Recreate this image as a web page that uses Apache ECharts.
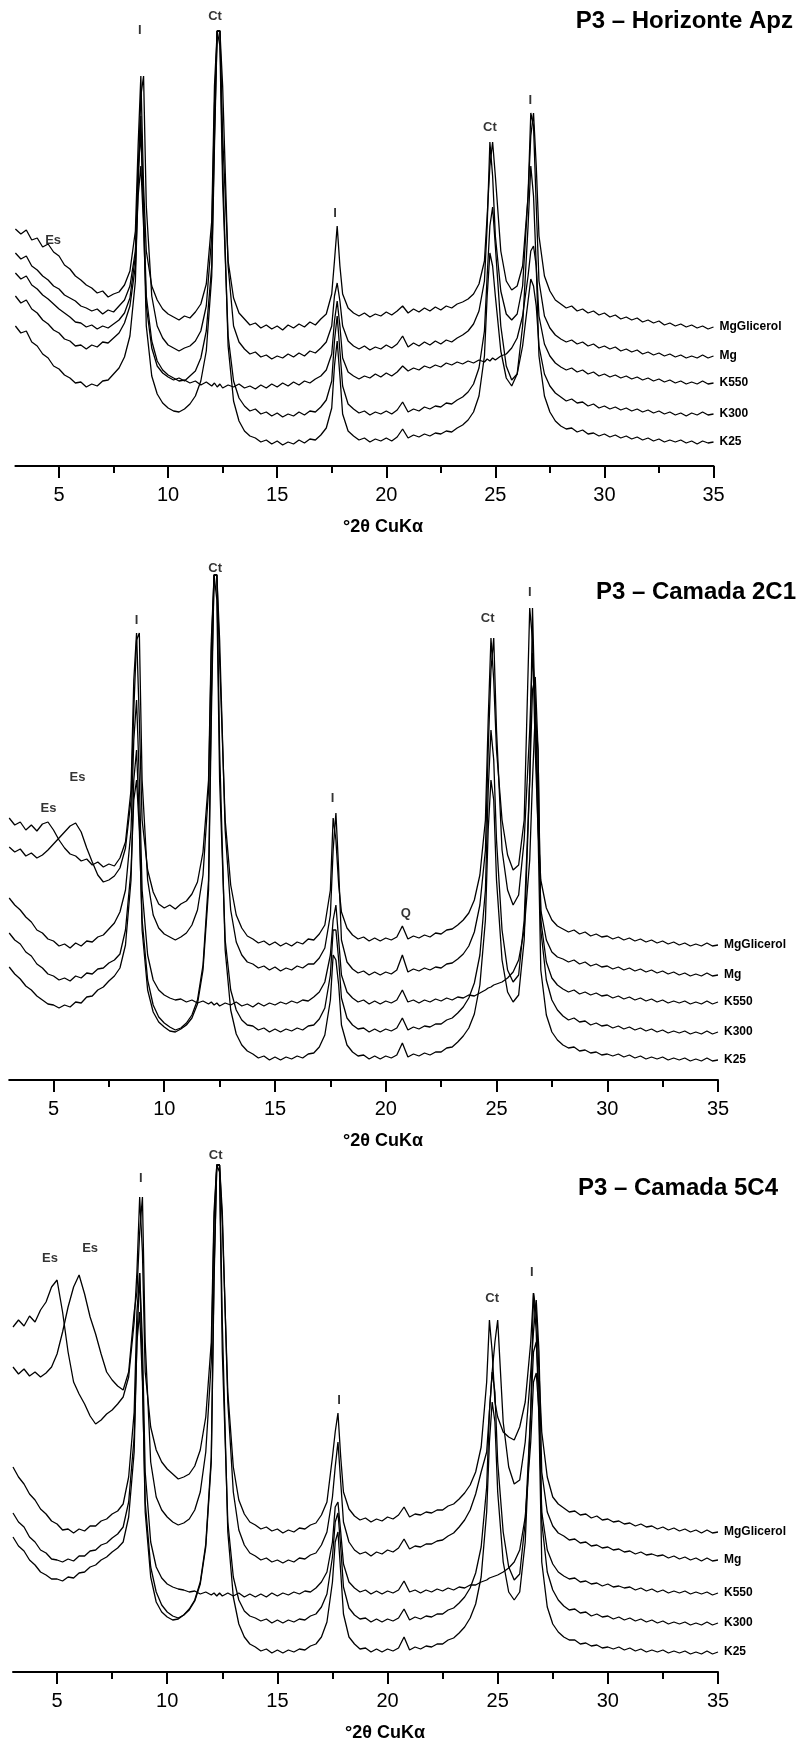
<!DOCTYPE html>
<html>
<head>
<meta charset="utf-8">
<script src="https://cdn.jsdelivr.net/npm/echarts@6/dist/echarts.min.js"></script>
<style>
html,body{margin:0;padding:0;background:#fff;}
#chart{width:799px;height:1747px;}
</style>
</head>
<body>
<div id="chart"></div>
<script>
// ---- shared 2θ grid (°2θ CuKα) ----
const XS = [3,3.25,3.5,3.75,4,4.25,4.5,4.75,5,5.25,5.5,5.75,6,6.25,6.5,6.75,7,7.25,7.5,7.75,8,8.25,8.5,
8.625,8.75,8.875,
9,9.25,9.5,9.75,10,10.25,10.5,10.75,11,11.25,11.5,11.75,12,
12.125,12.25,12.375,
12.5,12.75,13,13.25,13.5,13.75,14,14.25,14.5,14.75,15,15.25,15.5,15.75,16,16.25,16.5,16.75,17,17.25,17.5,
17.625,17.75,17.875,
18,18.25,18.5,18.75,19,19.25,19.5,19.75,20,20.25,20.5,20.75,21,21.25,21.5,21.75,22,22.25,22.5,22.75,23,23.25,23.5,23.75,24,24.25,24.5,
24.625,24.75,24.875,
25,25.25,25.5,25.75,26,26.25,26.5,
26.625,26.75,26.875,
27,27.25,27.5,27.75,28,28.25,28.5,28.75,29,29.25,29.5,29.75,30,30.25,30.5,30.75,31,31.25,31.5,31.75,32,32.25,32.5,32.75,33,33.25,33.5,33.75,34,34.25,34.5,34.75,35];

const SERIES_NAMES = ['MgGlicerol','Mg','K550','K300','K25'];
const TICKS = [5,10,15,20,25,30,35];
const MINOR_TICKS = [7.5,12.5,17.5,22.5,27.5,32.5];
const PANEL_TITLES = ['P3 \u2013 Horizonte Apz','P3 \u2013 Camada 2C1','P3 \u2013 Camada 5C4'];
const AXIS_TITLE = '\u00b02\u03b8 CuK\u03b1';

// ---- Panel 1: P3 – Horizonte Apz (relative intensity, stacked traces) ----
const P1_MGG = [237,232,236,226,228,219,222,214,210,201,197,190,186,181,178,173,175,169,172,174,181,195,235,
320,390,280,
215,180,166,157,152,149,146,150,148,154,162,182,245,
380,435,435,
330,205,168,153,147,141,143,138,141,137,140,136,141,138,142,139,144,141,147,152,172,
205,240,200,
172,158,153,150,153,149,152,150,154,151,155,160,153,157,154,158,155,159,156,160,158,162,164,167,172,182,205,
250,300,324,
290,215,185,176,180,200,270,
330,353,300,
230,190,175,166,162,158,160,155,157,153,155,151,153,149,151,147,149,146,148,144,146,143,145,141,143,140,142,139,141,138,140,137,139];
const P1_MG = [213,207,210,200,196,190,186,180,177,171,168,165,160,158,155,157,152,156,154,160,166,180,215,
290,370,390,
260,170,140,128,121,118,115,118,120,125,135,160,230,
360,435,435,
380,200,140,124,117,112,114,109,111,107,110,108,112,109,113,110,115,113,118,124,140,
170,183,165,
140,125,120,117,120,116,119,117,121,118,122,130,119,123,120,124,121,125,122,126,124,128,131,135,142,155,185,
240,324,290,
230,175,152,146,152,180,270,
353,340,260,
185,150,138,131,127,124,126,122,124,120,122,118,120,117,119,115,117,114,116,112,114,111,113,110,112,109,111,108,110,108,111,108,110];
const P1_K550 = [193,187,190,181,177,171,167,162,157,153,149,144,143,139,141,137,140,138,142,146,153,168,210,
300,330,260,
170,125,105,96,91,88,85,86,83,85,81,84,80,
83,79,82,
78,81,79,82,78,80,77,81,78,82,79,83,80,84,81,85,83,87,90,96,112,
145,165,140,
108,94,90,87,90,88,92,89,93,90,94,100,95,98,96,100,98,101,99,103,101,104,102,105,103,106,104,
107,105,108,
106,110,112,118,128,150,190,
215,220,200,
150,122,110,103,99,96,98,94,96,92,94,90,92,89,91,88,90,87,89,86,88,85,87,84,86,83,85,82,84,82,85,82,83];
const P1_K300 = [170,163,166,157,153,146,142,136,133,127,125,120,121,117,121,119,124,123,128,133,143,160,200,
270,300,240,
160,118,100,93,89,86,88,85,90,95,108,135,200,
330,435,420,
280,130,85,68,60,55,57,52,54,50,53,49,52,50,54,51,55,54,59,66,85,
125,150,115,
80,62,57,53,55,51,54,52,55,52,56,64,54,57,55,59,57,60,59,63,62,66,69,74,82,98,135,
190,240,259,
220,140,100,86,92,120,165,
187,180,160,
120,92,80,73,69,65,67,63,64,60,62,58,60,57,59,56,58,55,57,54,56,53,55,52,54,51,53,50,53,51,54,51,52];
const P1_K25 = [140,133,135,124,120,112,108,100,97,91,88,83,84,79,82,80,85,86,92,98,109,130,185,
280,350,250,
140,90,72,63,58,55,54,57,62,70,85,115,190,
320,435,435,
300,120,65,45,35,30,28,24,26,22,25,21,24,22,26,23,27,26,31,38,58,
100,125,90,
52,35,30,26,28,24,27,25,28,25,29,37,28,31,29,32,30,33,32,35,34,38,41,46,54,70,110,
170,213,200,
170,115,88,80,92,140,240,
300,270,200,
110,70,54,45,40,37,38,34,36,32,33,30,32,29,31,28,30,27,29,26,28,25,27,24,26,24,26,23,25,22,25,23,24];

// ---- Panel 2: P3 – Camada 2C1 ----
const P2_MGG = [262,255,258,250,255,249,256,258,250,240,232,226,224,219,221,215,218,213,216,214,222,238,290,
400,447,360,
260,210,188,176,172,175,171,176,179,186,198,228,300,
440,505,505,
420,260,195,165,152,144,141,137,139,135,138,134,137,134,138,136,141,140,146,155,190,
262,240,195,
168,152,145,141,143,139,142,139,142,140,143,154,141,144,142,145,143,147,146,150,151,155,160,167,180,205,260,
360,442,400,
330,260,225,210,215,260,472,
440,330,250,
200,172,160,154,151,148,150,146,148,144,146,143,144,141,143,140,142,139,141,138,140,137,139,136,138,135,137,134,136,134,137,134,135];
const P2_MG = [233,228,231,224,227,222,225,230,236,242,248,254,257,248,232,218,205,198,200,204,212,232,280,
370,440,447,
300,200,165,152,146,143,140,143,147,155,170,205,290,
430,505,505,
440,250,170,138,125,118,116,112,114,110,113,109,112,110,114,112,116,116,122,132,165,
230,267,210,
140,118,111,107,109,105,108,105,108,106,110,125,108,111,109,112,110,113,112,116,117,121,126,134,148,175,230,
330,410,442,
350,230,190,175,185,240,350,
427,380,280,
170,140,128,123,121,118,120,116,118,114,116,113,114,111,113,110,112,109,111,108,110,107,109,106,108,105,107,104,106,104,107,104,105];
const P2_K550 = [182,175,170,163,158,150,147,141,139,134,136,132,137,134,139,138,143,145,151,157,168,190,250,
340,380,300,
190,125,100,90,85,82,80,81,78,80,77,79,76,
78,75,77,
74,77,75,78,74,76,73,77,74,77,75,78,76,79,77,80,79,83,88,98,125,
160,175,140,
105,88,82,78,80,76,79,76,79,77,80,90,78,80,77,80,78,81,79,82,80,83,82,85,84,87,90,
92,93,95,
96,98,102,108,120,150,220,
300,367,330,
160,118,102,95,91,88,90,86,88,85,87,84,85,82,84,81,83,80,82,79,81,78,80,77,79,77,79,76,78,76,79,76,78];
const P2_K300 = [147,140,136,128,124,116,112,106,104,100,102,99,104,102,107,106,111,112,117,120,126,150,210,
280,300,250,
160,100,75,63,57,53,50,52,57,65,80,115,200,
380,505,480,
300,140,90,70,60,55,54,50,52,48,51,48,51,49,52,50,54,55,61,72,105,
150,150,120,
82,62,55,51,52,48,51,48,51,49,52,62,50,53,51,54,53,56,56,60,62,67,73,82,97,125,190,
290,350,320,
240,150,110,98,105,160,300,
390,403,330,
150,100,80,70,64,60,62,58,59,55,57,54,55,52,54,51,53,50,52,49,51,48,50,47,49,47,49,46,48,46,49,46,48];
const P2_K25 = [113,106,101,94,90,84,80,76,75,72,75,73,78,77,83,84,90,93,99,104,112,135,200,
300,330,260,
150,90,68,58,53,49,48,51,55,62,76,110,190,
360,505,505,
330,130,70,46,35,29,26,22,24,20,23,20,23,21,24,22,26,27,33,45,80,
125,120,95,
55,35,28,24,25,21,24,21,24,22,25,37,23,26,24,27,25,28,28,32,33,38,44,52,66,95,160,
250,300,280,
200,120,88,78,85,140,300,
472,360,250,
110,65,48,40,35,32,33,29,30,27,28,25,26,24,26,23,25,22,24,21,23,21,23,20,22,20,22,19,21,19,22,19,20];

// ---- Panel 3: P3 – Camada 5C4 ----
const P3_MGG = [345,352,346,356,350,362,370,385,392,360,320,290,278,268,256,248,252,258,262,268,275,295,350,
400,475,420,
300,245,222,210,203,198,193,195,198,206,222,255,330,
460,507,507,
450,280,205,172,158,150,147,143,145,141,143,139,142,140,144,143,147,149,157,170,215,
240,259,215,
180,163,156,152,154,150,153,151,155,153,157,165,155,158,157,160,159,162,162,166,168,173,179,187,200,225,290,
352,320,270,
255,240,235,232,245,270,330,
379,360,300,
240,195,175,168,164,160,161,157,158,154,156,152,153,150,151,148,149,146,148,145,146,143,145,142,144,141,143,140,142,139,142,139,140];
const P3_MG = [305,298,303,296,300,295,299,305,318,340,365,385,397,378,355,338,318,300,292,286,282,300,360,
380,440,475,
330,210,175,162,155,150,147,149,153,162,180,220,310,
450,507,507,
460,270,180,142,127,119,116,112,114,110,112,109,112,110,114,113,117,119,127,140,175,
205,230,190,
150,130,122,118,120,116,120,118,122,120,124,133,123,126,125,128,128,131,132,136,139,145,152,162,178,200,220,
260,300,330,
352,250,205,188,192,230,300,
340,372,320,
200,160,146,139,136,132,133,129,130,126,127,124,125,122,123,120,121,118,120,117,118,116,117,114,116,113,115,112,114,111,114,111,112];
const P3_K550 = [205,195,188,178,172,163,158,151,148,142,143,139,143,141,146,146,151,153,158,161,168,195,260,
360,399,330,
200,130,105,94,88,85,83,82,80,81,78,80,77,
79,76,79,
76,79,76,79,75,78,75,78,75,79,76,79,77,80,78,81,80,84,90,100,130,
165,170,140,
108,90,84,80,82,78,81,78,81,79,82,91,80,82,79,82,80,83,81,84,82,85,84,87,87,90,92,
94,95,96,
97,100,104,110,122,155,230,
290,299,260,
160,122,108,100,96,93,94,90,91,88,89,86,88,85,86,84,85,82,84,81,83,80,82,79,81,79,81,78,80,78,80,77,79];
const P3_K300 = [159,150,145,135,130,122,119,113,112,110,113,111,116,116,121,122,127,129,134,138,145,170,235,
330,360,290,
170,105,80,67,60,56,54,57,62,71,88,125,210,
390,507,500,
320,150,95,72,61,56,54,51,53,49,52,49,52,50,53,52,56,58,65,78,115,
150,159,125,
85,64,57,53,54,50,53,50,53,51,54,63,52,55,53,56,55,58,58,62,64,69,75,84,99,125,185,
260,300,280,
210,140,105,92,98,150,260,
320,330,280,
150,100,82,72,66,62,63,59,60,56,58,55,56,53,55,52,54,51,53,50,52,49,51,48,50,48,50,47,49,47,50,47,49];
const P3_K25 = [135,126,121,112,107,100,97,93,93,91,95,94,99,100,105,107,112,115,120,124,130,155,220,
330,399,300,
160,95,70,60,55,52,53,57,63,72,90,128,215,
400,507,507,
350,140,75,48,35,28,25,21,23,19,22,19,22,20,23,22,26,28,35,50,90,
130,140,100,
58,35,28,23,24,20,23,20,23,21,24,35,22,25,23,26,25,28,28,32,34,39,45,54,68,95,160,
230,270,250,
180,110,80,72,80,130,260,
379,340,250,
110,65,48,40,35,32,32,28,29,26,27,24,25,23,25,22,24,21,23,20,22,20,22,19,21,19,21,18,20,18,21,18,20];

// ---- peak annotations: [2θ, height, text] ----
const P1_ANN = [[8.7,436,'I'],[12.15,450,'Ct'],[17.65,253,'I'],[24.75,339,'Ct'],[26.6,366,'I'],[4.73,226,'Es']];
const P2_ANN = [[8.75,460,'I'],[12.3,512,'Ct'],[4.77,272,'Es'],[6.08,303,'Es'],[17.6,282,'I'],[20.9,167,'Q'],[24.6,462,'Ct'],[26.5,488,'I']];
const P3_ANN = [[8.8,494,'I'],[12.2,517,'Ct'],[4.68,414,'Es'],[6.5,424,'Es'],[17.8,272,'I'],[24.75,374,'Ct'],[26.55,400,'I']];

const PANELS = [
  {traces:[P1_MGG,P1_MG,P1_K550,P1_K300,P1_K25], ann:P1_ANN, grid:{left:15.4,right:85.5,top:0,height:466}, ymax:466,
   title:{x:793,y:21}, axisTitle:{x:383,y:527}},
  {traces:[P2_MGG,P2_MG,P2_K550,P2_K300,P2_K25], ann:P2_ANN, grid:{left:9.2,right:81,top:560,height:520}, ymax:520,
   title:{x:796,y:592}, axisTitle:{x:383,y:1141}},
  {traces:[P3_MGG,P3_MG,P3_K550,P3_K300,P3_K25], ann:P3_ANN, grid:{left:13,right:81,top:1140,height:532}, ymax:532,
   title:{x:778,y:1188}, axisTitle:{x:385,y:1733}}
];

const FONT = '"Liberation Sans", Arial, Helvetica, sans-serif';
const INK = '#000';

const grids = [], xAxes = [], yAxes = [], series = [], graphics = [];
PANELS.forEach((p, pi) => {
  grids.push(Object.assign({outerBoundsMode:'none', containLabel:false}, p.grid));
  xAxes.push({
    type:'value', gridIndex:pi, min:3, max:35, position:'bottom',
    axisLine:{show:true, onZero:false, lineStyle:{color:INK, width:2}},
    axisTick:{show:true, customValues:TICKS, length:12, lineStyle:{color:INK, width:2}},
    axisLabel:{show:true, customValues:TICKS, fontSize:20, color:INK, margin:19, fontFamily:FONT},
    splitLine:{show:false}
  });
  xAxes.push({
    type:'value', gridIndex:pi, min:3, max:35, position:'bottom',
    axisLine:{show:false},
    axisTick:{show:true, customValues:MINOR_TICKS, length:7, lineStyle:{color:INK, width:2}},
    axisLabel:{show:false}, splitLine:{show:false}
  });
  yAxes.push({type:'value', gridIndex:pi, min:0, max:p.ymax, show:false, splitLine:{show:false}});
  p.traces.forEach((arr, ti) => {
    series.push({
      type:'line', name:SERIES_NAMES[ti], xAxisIndex:pi*2, yAxisIndex:pi,
      data: XS.map((x,i)=>[x, arr[i]]),
      showSymbol:false, symbol:'none', smooth:false, clip:true,
      lineStyle:{color:'#000', width:1.3},
      endLabel:{show:true, formatter:'{a}', fontSize:12, fontWeight:'bold', color:INK, fontFamily:FONT, distance:6},
      emphasis:{disabled:true}, silent:true, z:2
    });
  });
  series.push({
    type:'scatter', xAxisIndex:pi*2, yAxisIndex:pi,
    data: p.ann.map(a=>({value:[a[0],a[1]], name:a[2]})),
    symbolSize:1, itemStyle:{color:'rgba(0,0,0,0)'},
    label:{show:true, position:'inside', formatter:'{b}', fontSize:13, fontWeight:'bold', color:INK, fontFamily:FONT},
    silent:true, z:5
  });
  graphics.push({type:'text', x:p.title.x, y:p.title.y,
    style:{text:PANEL_TITLES[pi], font:'bold 24px '+FONT, fill:INK, textAlign:'right', textVerticalAlign:'middle'}});
  graphics.push({type:'text', x:p.axisTitle.x, y:p.axisTitle.y,
    style:{text:AXIS_TITLE, font:'bold 18px '+FONT, fill:INK, textAlign:'center', textVerticalAlign:'middle'}});
});

const chart = echarts.init(document.getElementById('chart'), null, {renderer:'canvas'});
chart.setOption({
  animation:false,
  backgroundColor:'#fff',
  textStyle:{fontFamily:FONT},
  grid:grids, xAxis:xAxes, yAxis:yAxes, series:series, graphic:graphics
});
</script>
</body>
</html>
